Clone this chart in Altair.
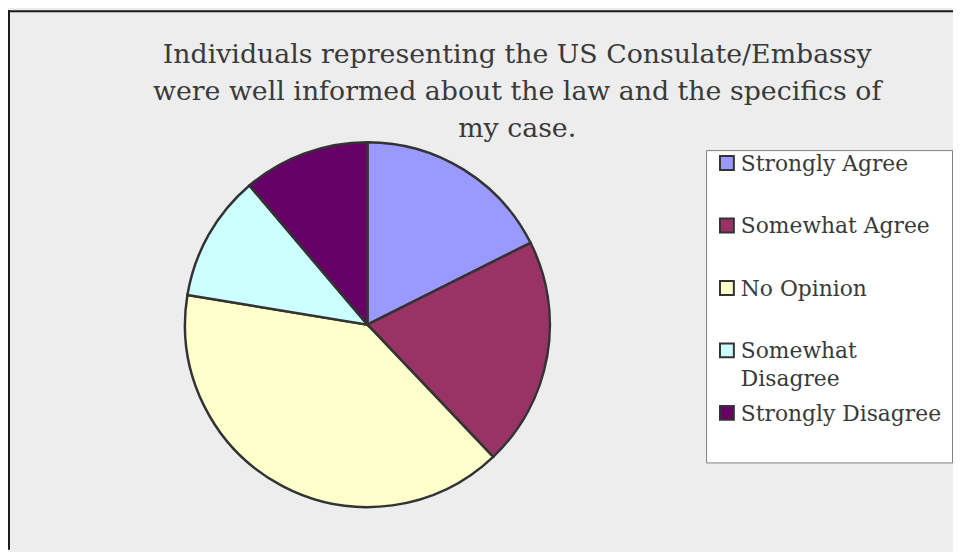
import altair as alt
import pandas as pd

categories = ["Strongly Agree", "Somewhat Agree", "No Opinion", "Somewhat Disagree", "Strongly Disagree"]
values = [17.6, 20.3, 39.7, 11.2, 11.2]
colors = ["#9999FF", "#993366", "#FFFFCC", "#CCFFFF", "#660066"]
title_lines = [
    "Individuals representing the US Consulate/Embassy",
    "were well informed about the law and the specifics of",
    "my case.",
]

df = pd.DataFrame({"category": categories, "value": values, "idx": list(range(len(categories)))})

TEXT = "#3a3a3a"
FONT = "DejaVu Serif"

# square symbol raised so that it sits beside the first label line
SYMBOL = "M-1,-2.14H1V-0.14H-1Z"

pie = alt.Chart(df).mark_arc(stroke="#333333", strokeWidth=2.5).encode(
    theta=alt.Theta("value:Q", stack=True),
    order=alt.Order("idx:Q", sort="ascending"),
    color=alt.Color(
        "category:N",
        scale=alt.Scale(domain=categories, range=colors),
        legend=alt.Legend(
            title=None,
            orient="none",
            legendX=525.5,
            legendY=8,
            direction="vertical",
            fillColor="#FFFFFF",
            strokeColor="#7F7F7F",
            padding=10,
            rowPadding=12,
            symbolType=SYMBOL,
            symbolSize=196,
            symbolStrokeColor="#333333",
            symbolStrokeWidth=2,
            symbolOpacity=1,
            labelFont=FONT,
            labelFontSize=22,
            labelColor=TEXT,
            labelLimit=400,
            labelOffset=3,
            labelBaseline="alphabetic",
            labelExpr="datum.label == 'Somewhat Disagree' ? ['Somewhat', 'Disagree'] : [datum.label, '']",
        ),
    ),
)

frame_df = pd.DataFrame({"k": [0]})
rule_v = alt.Chart(frame_df).mark_rule(color="#1a1a1a", strokeWidth=2).encode(
    x=alt.value(-177.5), y=alt.value(-133), y2=alt.value(411)
)
rule_h = alt.Chart(frame_df).mark_rule(color="#1a1a1a", strokeWidth=2).encode(
    x=alt.value(-178.5), x2=alt.value(775), y=alt.value(-132)
)

chart = alt.layer(pie, rule_v, rule_h).properties(
    width=368,
    height=368,
    autosize=alt.AutoSizeParams(type="none"),
    padding={"left": 178.5, "top": 133, "right": 406.5, "bottom": 43},
    background="#EDEDED",
    title=alt.TitleParams(
        text=title_lines,
        font=FONT,
        fontSize=27,
        fontWeight="normal",
        color=TEXT,
        lineHeight=37.5,
        anchor="middle",
        frame="group",
        dx=151,
        offset=-135,
    ),
).configure(
    view=alt.ViewConfig(stroke="transparent", fill="transparent"),
    style={"guide-label": {"lineHeight": 28}},
)

chart.save("out.html", embed_options={"renderer": "svg", "actions": False})
